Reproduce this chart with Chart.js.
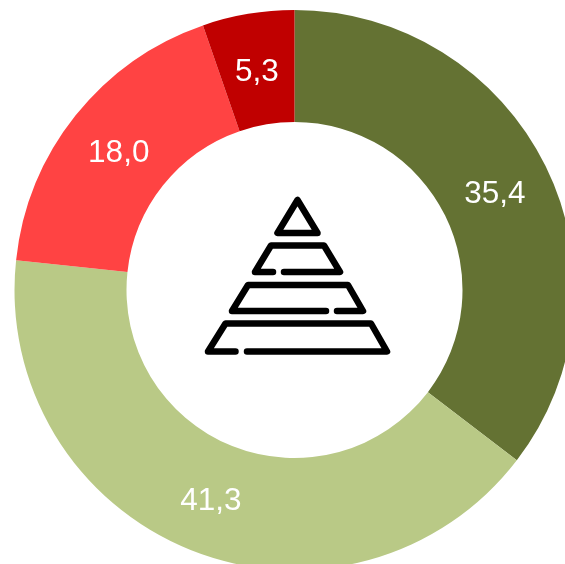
<!DOCTYPE html>
<html>
<head>
<meta charset="utf-8">
<script src="https://cdn.jsdelivr.net/npm/chart.js@4"></script>
<style>
  html, body { margin: 0; padding: 0; background: #fff; overflow: hidden; width: 565px; height: 564px; }
  canvas { position: absolute; left: 0; top: 0; }
</style>
</head>
<body>
<canvas id="chart" width="589" height="580"></canvas>
<script>
const categories = ["A", "B", "C", "D"];
const values = [35.4, 41.3, 18.0, 5.3];
const valueLabels = ["35,4", "41,3", "18,0", "5,3"];
const colors = ["#647233", "#b9c986", "#ff4343", "#c00000"];

// white numbers in the middle of each slice
const sliceLabels = {
  id: "sliceLabels",
  afterDatasetsDraw(chart) {
    const ctx = chart.ctx;
    ctx.save();
    ctx.fillStyle = "#fff";
    ctx.font = '31.5px "Liberation Sans"';
    ctx.textAlign = "center";
    ctx.textBaseline = "middle";
    chart.getDatasetMeta(0).data.forEach((arc, i) => {
      const p = arc.getCenterPoint();
      ctx.fillText(valueLabels[i], p.x - 0.5, p.y + 3);
    });
    ctx.restore();
  },
};

// pyramid icon in the hole
const pyramidIcon = {
  id: "pyramidIcon",
  afterDraw(chart) {
    const ctx = chart.ctx;
    ctx.save();
    ctx.strokeStyle = "#000";
    ctx.lineWidth = 6.5;
    ctx.lineCap = "round";
    ctx.lineJoin = "round";
    function line(pts, close) {
      ctx.beginPath();
      pts.forEach((p, i) => (i ? ctx.lineTo(p[0], p[1]) : ctx.moveTo(p[0], p[1])));
      if (close) ctx.closePath();
      ctx.stroke();
    }
    line([[297.5, 200], [277.5, 233], [317.5, 233]], true);
    line([[273, 272], [255, 272], [271, 245.5], [324, 245.5], [340, 272], [284, 272]]);
    line([[326, 311], [232, 311], [248, 285], [348, 285], [363, 311], [337, 311]]);
    line([[235.5, 351.5], [208, 351.5], [225.5, 323.5], [371, 323.5], [387, 351.5], [247, 351.5]]);
    ctx.restore();
  },
};

new Chart(document.getElementById("chart"), {
  type: "doughnut",
  data: {
    labels: categories,
    datasets: [
      {
        data: values,
        backgroundColor: colors,
        borderWidth: 0,
        radius: 280,
        cutout: "60%",
      },
    ],
  },
  options: {
    responsive: false,
    animation: false,
    plugins: {
      legend: { display: false },
      tooltip: { enabled: false },
    },
  },
  plugins: [sliceLabels, pyramidIcon],
});
</script>
</body>
</html>
